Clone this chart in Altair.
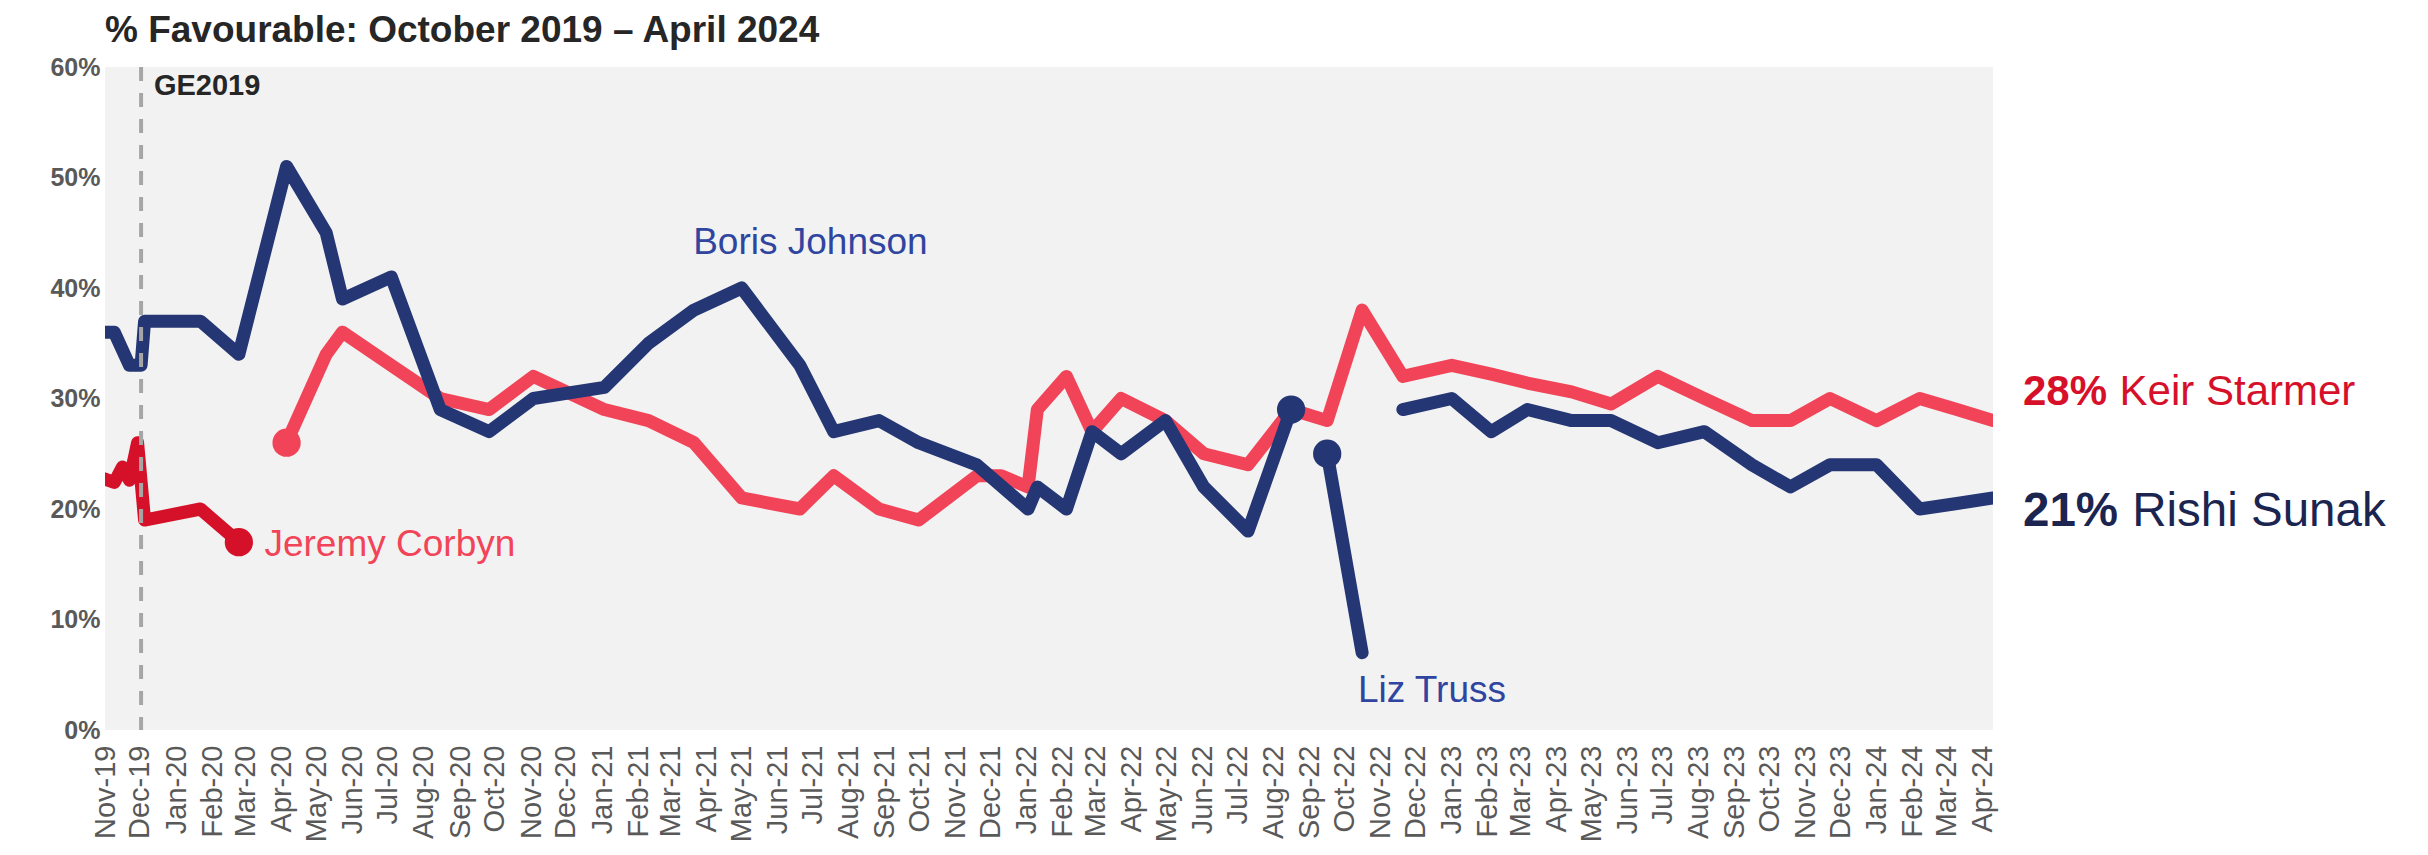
import altair as alt
import pandas as pd

FONT = "Liberation Sans"

# ---------------- data ----------------
title_text = ["% Favourable: October 2019 \u2013 April 2024"]
month_ticks = pd.date_range("2019-11-01", "2024-04-01", freq="MS")  # Nov-19 ... Apr-24

# Boris Johnson (Conservative leader)
bj_dates = ["2019-10-24", "2019-11-09", "2019-11-22", "2019-12-02", "2019-12-05", "2020-01-22",
            "2020-02-24", "2020-04-05", "2020-05-09", "2020-05-23", "2020-07-04", "2020-08-15",
            "2020-09-26", "2020-11-03", "2021-01-03", "2021-02-10", "2021-03-21", "2021-05-01",
            "2021-06-20", "2021-07-19", "2021-08-27", "2021-09-30", "2021-11-19", "2022-01-02",
            "2022-01-10", "2022-02-04", "2022-02-26", "2022-03-23", "2022-04-30", "2022-06-02",
            "2022-07-10", "2022-08-16"]
bj_vals = [36, 36, 33, 33, 37, 37, 34, 51, 45, 39, 41, 29, 27, 30, 31, 35, 38, 40, 33, 27, 28, 26,
           24, 20, 22, 20, 27, 25, 28, 22, 18, 29]

# Liz Truss
lt_dates = ["2022-09-16", "2022-10-16"]
lt_vals = [25, 7]

# Rishi Sunak
rs_dates = ["2022-11-20", "2023-01-01", "2023-02-04", "2023-03-07", "2023-04-14", "2023-05-18",
            "2023-06-27", "2023-08-06", "2023-09-16", "2023-10-19", "2023-11-22", "2024-01-01",
            "2024-02-07", "2024-03-10", "2024-04-10"]
rs_vals = [29, 30, 27, 29, 28, 28, 26, 27, 24, 22, 24, 24, 20, 20.5, 21]

# Jeremy Corbyn (Labour leader)
jc_dates = ["2019-10-24", "2019-11-09", "2019-11-16", "2019-11-22", "2019-11-29", "2019-12-05",
            "2020-01-22", "2020-02-24"]
jc_vals = [23, 22.4, 23.8, 22.6, 26, 19, 20, 17]

# Keir Starmer
ks_dates = ["2020-04-05", "2020-05-09", "2020-05-23", "2020-07-04", "2020-08-15", "2020-09-26",
            "2020-11-03", "2021-01-03", "2021-02-10", "2021-03-21", "2021-05-01", "2021-06-20",
            "2021-07-19", "2021-08-27", "2021-09-30", "2021-11-19", "2021-12-10", "2022-01-02",
            "2022-01-10", "2022-02-04", "2022-02-26", "2022-03-23", "2022-04-30", "2022-06-02",
            "2022-07-10", "2022-08-16", "2022-09-16", "2022-10-16", "2022-11-20", "2023-01-01",
            "2023-02-04", "2023-03-07", "2023-04-14", "2023-05-18", "2023-06-27", "2023-08-06",
            "2023-09-16", "2023-10-19", "2023-11-22", "2024-01-01", "2024-02-07", "2024-03-10",
            "2024-04-10"]
ks_vals = [26, 34, 36, 33, 30, 29, 32, 29, 28, 26, 21, 20, 23, 20, 19, 23, 23, 22, 29, 32, 27, 30,
           28, 25, 24, 29, 28, 38, 32, 33, 32.2, 31.4, 30.6, 29.5, 32, 30, 28, 28, 30, 28, 30, 29, 28]

# General election marker
ge_date = ["2019-12-02"]
ge_label = ["GE2019"]
ge_label_date = ["2019-12-13"]
ge_label_value = [58.3]

# in-chart name labels
ann_text = ["Boris Johnson", "Jeremy Corbyn", "Liz Truss"]
ann_date = ["2021-06-29", "2020-03-17", "2022-12-15"]
ann_value = [44.1, 16.7, 3.5]

# end-of-line labels
end_names = ["Keir Starmer", "Rishi Sunak"]
end_label_value = [30.6, 19.7]

# colours
NAVY = "#243673"
DARKRED = "#D5112A"
CORAL = "#F24458"
LABEL_BLUE = "#2F45A0"
SUNAK_TXT = "#1B2550"
STARMER_TXT = "#D7102A"
GREY = "#595959"


def frame(dates, vals):
    return pd.DataFrame({"date": pd.to_datetime(dates), "value": vals})


W, H = 1888, 663
xscale = alt.Scale(domain=[alt.DateTime(year=2019, month=11, date=1),
                           alt.DateTime(year=2024, month=4, date=10)])
yscale = alt.Scale(domain=[0, 60], nice=False)

xaxis = alt.Axis(values=[alt.DateTime(year=d.year, month=d.month, date=1) for d in month_ticks],
                 format="%b-%y", labelAngle=270, labelAlign="right", labelBaseline="middle",
                 labelFontSize=29, labelFont=FONT, labelColor=GREY, labelPadding=15,
                 ticks=False, domain=False, grid=False, title=None, labelOverlap=False,
                 labelFlush=False, labelBound=False)
yaxis = alt.Axis(values=[0, 10, 20, 30, 40, 50, 60], labelExpr="datum.value + '%'",
                 labelFontSize=25, labelFontWeight="bold", labelFont=FONT, labelColor=GREY,
                 labelPadding=5, ticks=False, domain=False, grid=False, title=None,
                 labelOverlap=False)

X = alt.X("date:T", scale=xscale, axis=xaxis)
Y = alt.Y("value:Q", scale=yscale, axis=yaxis)


def line(df, color):
    return alt.Chart(df).mark_line(color=color, strokeWidth=13, strokeCap="round",
                                   strokeJoin="round", clip=True).encode(x=X, y=Y)


lines = [
    line(frame(ks_dates, ks_vals), CORAL),
    line(frame(jc_dates, jc_vals), DARKRED),
    line(frame(bj_dates, bj_vals), NAVY),
    line(frame(lt_dates, lt_vals), NAVY),
    line(frame(rs_dates, rs_vals), NAVY),
]

dots_df = pd.DataFrame({
    "date": pd.to_datetime([jc_dates[-1], ks_dates[0], bj_dates[-1], lt_dates[0]]),
    "value": [jc_vals[-1], ks_vals[0], bj_vals[-1], lt_vals[0]],
    "col": [DARKRED, CORAL, NAVY, NAVY],
})
dots = alt.Chart(dots_df).mark_circle(size=800, opacity=1).encode(
    x=X, y=Y, color=alt.Color("col:N", scale=None))

ge_rule = alt.Chart(pd.DataFrame({"date": pd.to_datetime(ge_date)})).mark_rule(
    color="#A6A6A6", strokeWidth=4, strokeDash=[14, 12]).encode(x=X)

ge_text = alt.Chart(pd.DataFrame({"date": pd.to_datetime(ge_label_date),
                                  "value": ge_label_value, "t": ge_label})).mark_text(
    align="left", baseline="middle", font=FONT, fontSize=29, fontWeight="bold",
    color="#262626").encode(x=X, y=Y, text="t:N")

ann_df = pd.DataFrame({"date": pd.to_datetime(ann_date), "value": ann_value, "t": ann_text})
ann_layers = []
for i, (al, col) in enumerate([("center", LABEL_BLUE), ("left", CORAL), ("center", LABEL_BLUE)]):
    ann_layers.append(
        alt.Chart(ann_df.iloc[[i]]).mark_text(align=al, baseline="middle", font=FONT,
                                              fontSize=37, color=col).encode(
            x=X, y=Y, text="t:N"))

# end labels: bold percentage (from the last data point) + regular name
end_layers = []
for last_date, last_val, name, yv, col, fs in [
        (ks_dates[-1], ks_vals[-1], end_names[0], end_label_value[0], STARMER_TXT, 42),
        (rs_dates[-1], rs_vals[-1], end_names[1], end_label_value[1], SUNAK_TXT, 47.5)]:
    df = pd.DataFrame({"date": pd.to_datetime([last_date]), "value": [yv],
                       "pct": [f"{last_val:g}%"], "name": [name]})
    end_layers.append(alt.Chart(df).mark_text(
        align="left", baseline="middle", font=FONT, fontSize=fs, fontWeight="bold",
        color=col, dx=30).encode(x=X, y=Y, text="pct:N"))
    end_layers.append(alt.Chart(df).mark_text(
        align="left", baseline="middle", font=FONT, fontSize=fs, color=col,
        dx=30 + 2.0 * fs + 0.3 * fs).encode(x=X, y=Y, text="name:N"))

title_layer = alt.Chart(pd.DataFrame({"t": title_text})).mark_text(
    align="left", baseline="alphabetic", font=FONT, fontSize=37, fontWeight="bold",
    color="#262626").encode(x=alt.value(0), y=alt.value(-25), text="t:N")

chart = alt.layer(*lines, dots, ge_rule, ge_text, *ann_layers, *end_layers,
                  title_layer).properties(
    width=W, height=H,
    background="white",
    autosize=alt.AutoSizeParams(type="none"),
    padding={"left": 97, "top": 59, "right": 427, "bottom": 117},
).configure_view(fill="#F2F2F2", strokeWidth=0)

chart.save("out.html", embed_options={"renderer": "svg", "actions": False})
